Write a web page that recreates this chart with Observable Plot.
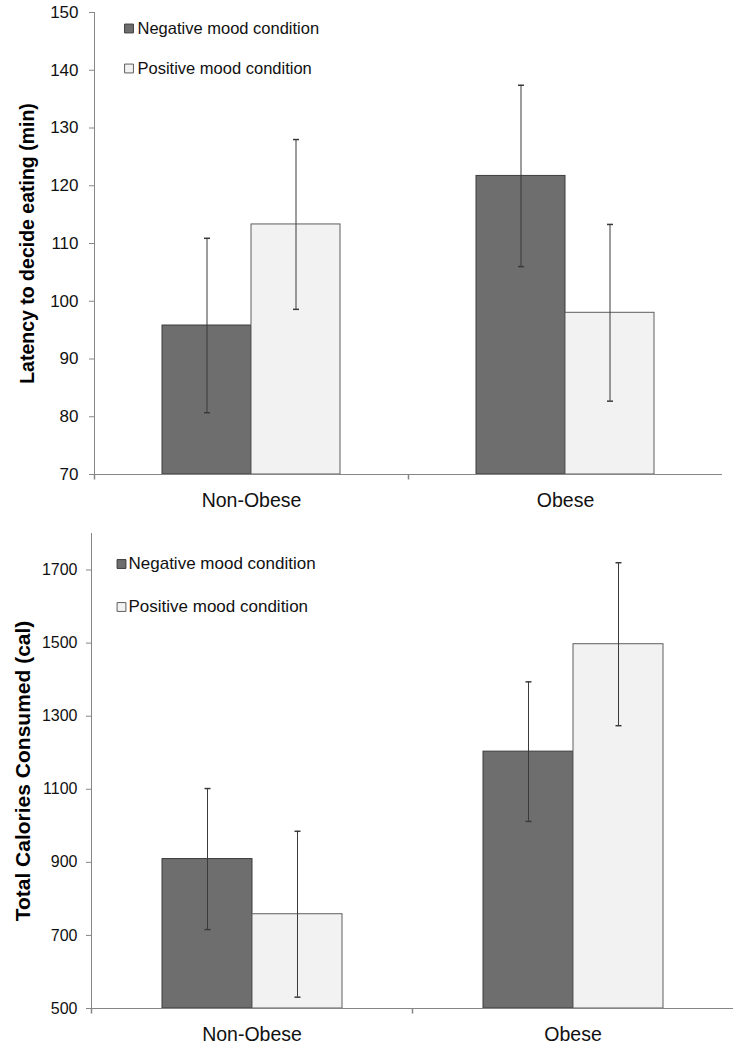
<!DOCTYPE html>
<html>
<head>
<meta charset="utf-8">
<script src="https://cdn.jsdelivr.net/npm/d3@7"></script>
<script src="https://cdn.jsdelivr.net/npm/@observablehq/plot@0.6"></script>
<style>
  html, body { margin: 0; padding: 0; background: #fff; }
  svg { display: block; }
</style>
</head>
<body>
<div id="top"></div>
<div id="bottom"></div>
<script>
// ---- data ----
const groups = ["Non-Obese", "Obese"];
const conditions = ["Negative mood condition", "Positive mood condition"];

// order: Non-Obese/Negative, Non-Obese/Positive, Obese/Negative, Obese/Positive
const latencyMeans = [95.8, 113.3, 121.7, 98.0];
const latencyErrors = [15.1, 14.7, 15.7, 15.3];
const latencyTicks = [70, 80, 90, 100, 110, 120, 130, 140, 150];
const latencyLabel = "Latency to decide eating (min)";

const calorieMeans = [909, 758, 1203, 1497];
const calorieErrors = [193, 227, 191, 223];
const calorieTicks = [500, 700, 900, 1100, 1300, 1500, 1700];
const calorieLabel = "Total Calories Consumed (cal)";

// ---- styles ----
const fontFamily = "'Liberation Sans', Arial, sans-serif";
const barFill = ["#6e6e6e", "#f2f2f2"];
const barStroke = ["#3c3c3c", "#5e5e5e"];
const axisColor = "#868686";
const errColor = "#3a3a3a";

const capSymbol = {draw(ctx) { ctx.moveTo(-3, 0); ctx.lineTo(3, 0); }};
const tickDown = {draw(ctx) { ctx.moveTo(0, 0); ctx.lineTo(0, 5); }};

function makeChart(cfg) {
  const rows = groups.flatMap((g, i) => conditions.map((c, j) => ({
    group: g, cond: c, mean: cfg.means[i * 2 + j], err: cfg.errs[i * 2 + j]
  })));
  const yMin = cfg.ticks[0];
  const condIndex = (c) => conditions.indexOf(c);
  const legendMarks = conditions.flatMap((c, i) => [
    Plot.dot([c], {
      fx: () => groups[0], x: null, y: null, frameAnchor: "top-left",
      dx: cfg.legend.markerDx, dy: cfg.legend.dy0 + cfg.legend.step * i,
      symbol: "square", r: 5, fill: barFill[i], stroke: barStroke[i], strokeWidth: 1
    }),
    Plot.text([c], {
      fx: () => groups[0], x: null, y: null, frameAnchor: "top-left", text: d => d,
      dx: cfg.legend.textDx, dy: cfg.legend.dy0 + cfg.legend.step * i,
      textAnchor: "start", lineAnchor: "middle", fontSize: cfg.legend.fontSize, fill: "#111"
    })
  ]);
  return Plot.plot({
    width: 745,
    height: cfg.height,
    marginLeft: cfg.marginLeft,
    marginRight: cfg.marginRight,
    marginTop: cfg.marginTop,
    marginBottom: cfg.marginBottom,
    style: {fontFamily, color: "black", background: "white", overflow: "visible"},
    fx: {domain: groups, padding: 0, axis: null, label: null},
    x: {domain: conditions, paddingInner: 0, paddingOuter: cfg.pad, axis: null},
    y: {domain: cfg.domain, axis: null},
    color: {domain: conditions, range: barFill},
    marks: [
      Plot.barY(rows, {
        fx: "group", x: "cond", y1: yMin, y2: "mean", fill: "cond",
        stroke: d => barStroke[condIndex(d.cond)], strokeWidth: 1
      }),
      Plot.ruleX(rows, {
        fx: "group", x: "cond", y1: d => d.mean - d.err, y2: d => d.mean + d.err,
        stroke: errColor, strokeWidth: 1
      }),
      Plot.dot(rows, {fx: "group", x: "cond", y: d => d.mean - d.err, symbol: capSymbol, fill: "none", stroke: errColor}),
      Plot.dot(rows, {fx: "group", x: "cond", y: d => d.mean + d.err, symbol: capSymbol, fill: "none", stroke: errColor}),
      Plot.ruleY([yMin], {stroke: axisColor, strokeWidth: 1}),
      Plot.frame({anchor: "left", facetAnchor: "left", stroke: axisColor, strokeWidth: 1}),
      Plot.dot([0], {x: null, y: null, frameAnchor: "bottom-left", symbol: tickDown, fill: "none", stroke: axisColor}),
      Plot.axisY({
        anchor: "left", ticks: cfg.ticks, tickSize: 5, tickPadding: cfg.tickPadding,
        tickFormat: "d", fontSize: cfg.tickFontSize, stroke: axisColor, fill: "#111", label: null
      }),
      Plot.axisFx({anchor: "bottom", tickSize: 0, tickPadding: 19, fontSize: 19.5, fill: "#111", label: null}),
      Plot.text([cfg.label], {
        fx: () => groups[0], x: null, y: null, frameAnchor: "left", text: d => d,
        textAnchor: "middle", lineAnchor: "middle",
        rotate: -90, dx: cfg.titleDx, fontSize: cfg.titleSize, fontWeight: "bold", fill: "#000"
      }),
      ...legendMarks
    ]
  });
}

document.getElementById("top").appendChild(makeChart({
  means: latencyMeans, errs: latencyErrors, ticks: latencyTicks, label: latencyLabel,
  domain: [70, 150], height: 515, marginLeft: 94, marginRight: 23, marginTop: 12, marginBottom: 41,
  pad: 0.745, tickPadding: 11, tickFontSize: 17, titleDx: -67, titleSize: 19.5,
  legend: {markerDx: 34.5, textDx: 43, dy0: 16, step: 40, fontSize: 16.5}
}));

document.getElementById("bottom").appendChild(makeChart({
  means: calorieMeans, errs: calorieErrors, ticks: calorieTicks, label: calorieLabel,
  domain: [500, 1800], height: 533, marginLeft: 91, marginRight: 12, marginTop: 18, marginBottom: 40,
  pad: 0.765, tickPadding: 9, tickFontSize: 16, titleDx: -68.5, titleSize: 21,
  legend: {markerDx: 30, textDx: 37, dy0: 30.5, step: 43, fontSize: 17}
}));
</script>
</body>
</html>
